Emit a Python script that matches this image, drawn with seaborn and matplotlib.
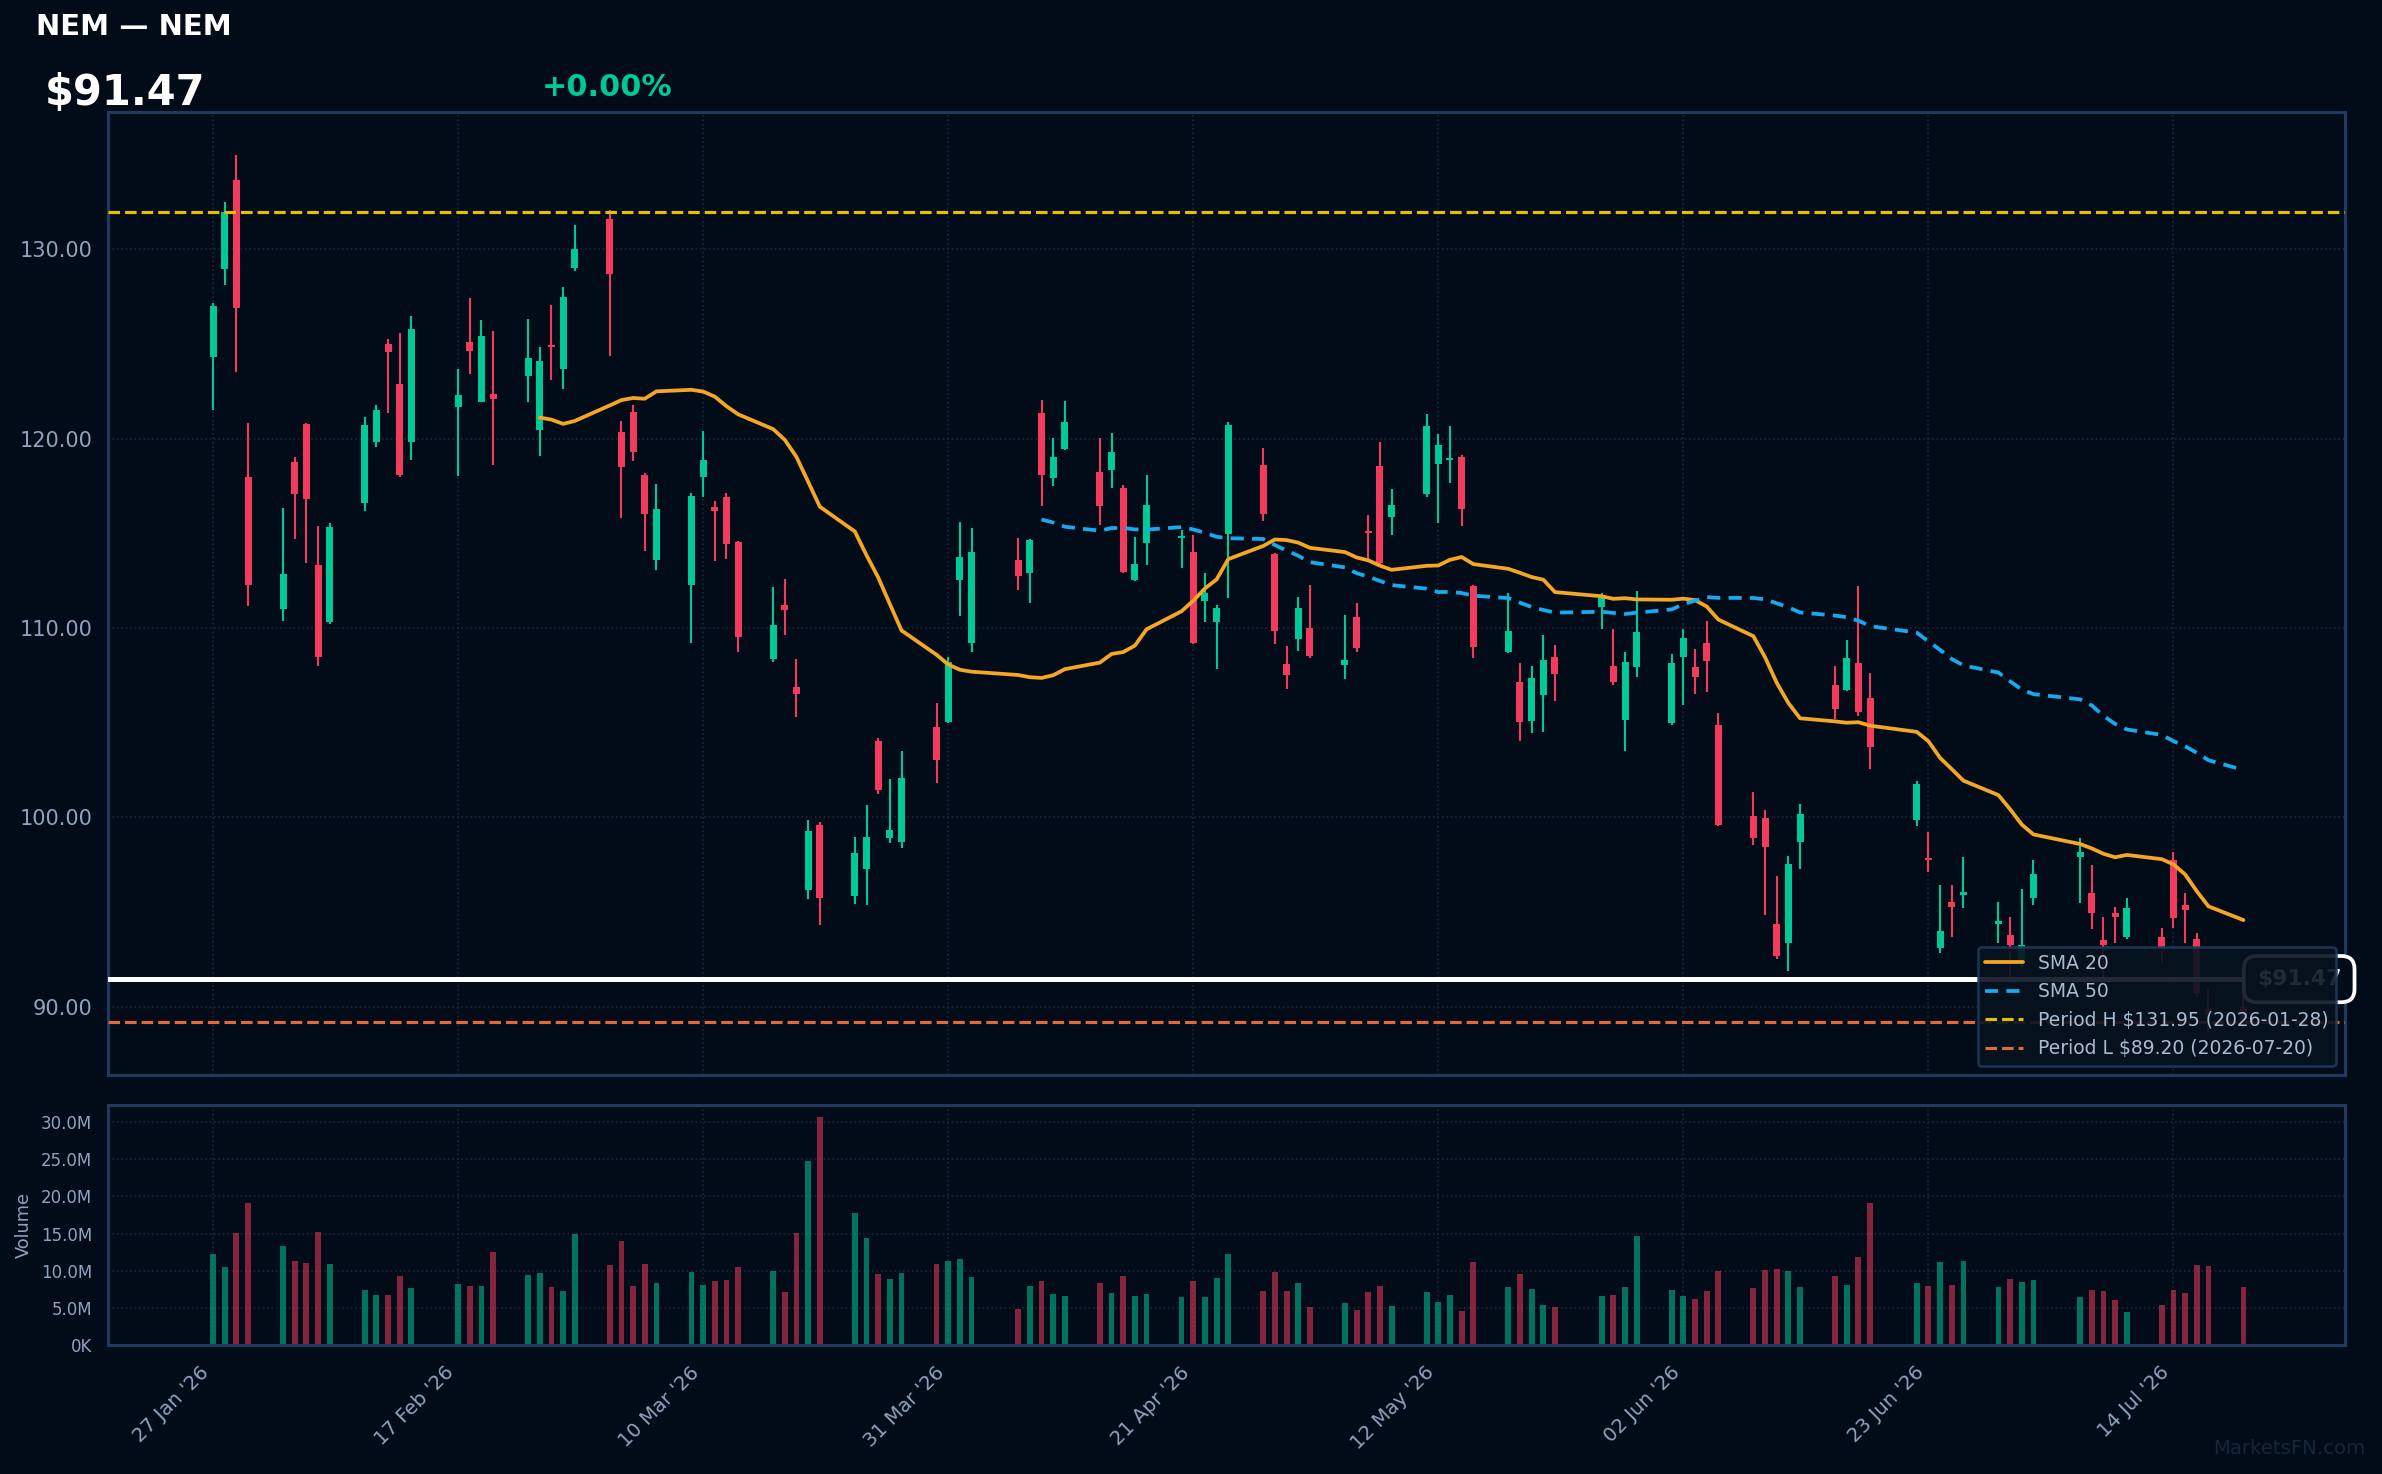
import numpy as np
import pandas as pd
import matplotlib
matplotlib.use("Agg")
import matplotlib.pyplot as plt
import matplotlib.dates as mdates
import matplotlib.transforms as mtransforms
from matplotlib.ticker import FuncFormatter, FixedLocator
import seaborn as sns

# ---------------- data ----------------
holidays = ["2026-02-16", "2026-04-03", "2026-05-25", "2026-06-19", "2026-07-03"]
dates = pd.bdate_range("2026-01-27", "2026-07-20", freq="C", holidays=holidays)

open_ = [124.29, 128.97, 133.64, 117.96, 111.02, 118.75, 120.77, 113.32, 110.29, 116.62,
         119.79, 124.99, 122.88, 119.79, 121.67, 125.08, 121.94, 122.35, 123.31, 120.47,
         124.93, 123.69, 129.02, 131.58, 120.33, 121.39, 118.07, 113.61, 112.29, 117.98,
         116.38, 116.90, 114.53, 108.38, 111.21, 106.91, 96.17, 99.62, 95.85, 97.29,
         104.03, 98.93, 98.72, 104.76, 105.06, 112.55, 109.23, 113.59, 112.92, 121.35,
         117.94, 119.47, 118.22, 118.35, 117.39, 112.55, 114.51, 114.74, 114.00, 111.44,
         110.29, 114.96, 118.60, 113.90, 108.10, 109.44, 109.98, 108.05, 110.58, 115.12,
         118.55, 115.88, 117.09, 118.67, 118.85, 119.03, 112.22, 108.75, 107.15, 105.11,
         106.45, 108.47, 111.12, 107.97, 105.16, 107.95, 104.96, 108.48, 107.93, 109.21,
         104.88, 100.06, 99.98, 94.38, 93.40, 98.68, 106.99, 106.73, 108.16, 106.31,
         99.87, 97.87, 93.13, 95.54, 95.89, 94.40, 93.78, 92.30, 95.77, 97.93,
         96.00, 93.53, 94.94, 93.71, 93.67, 97.75, 95.38, 93.59, 89.90, 90.00]
high = [127.16, 132.47, 134.96, 120.82, 116.34, 119.01, 120.82, 115.38, 115.55, 121.13,
        121.77, 125.25, 125.57, 126.46, 123.67, 127.42, 126.25, 125.67, 126.31, 124.82,
        127.04, 127.99, 131.26, 132.04, 120.92, 121.77, 118.19, 117.60, 117.13, 120.39,
        116.70, 117.13, 114.60, 112.15, 112.59, 108.36, 99.86, 99.78, 98.98, 100.66,
        104.20, 102.03, 103.51, 106.04, 108.47, 115.59, 115.28, 114.75, 114.70, 122.03,
        120.03, 121.97, 120.03, 120.30, 117.54, 114.79, 118.07, 115.17, 114.91, 112.91,
        111.21, 120.85, 119.50, 113.94, 109.05, 111.64, 112.27, 110.69, 111.32, 115.96,
        119.82, 117.33, 121.29, 120.24, 120.66, 119.11, 112.27, 111.83, 108.14, 108.00,
        109.62, 109.09, 111.85, 109.93, 108.71, 111.95, 108.61, 109.93, 108.89, 110.36,
        105.52, 101.34, 100.39, 96.91, 97.96, 100.72, 107.99, 109.37, 112.21, 107.63,
        101.91, 99.21, 96.44, 96.44, 97.91, 95.54, 94.75, 96.22, 97.75, 98.92,
        97.49, 94.73, 95.26, 95.73, 94.15, 98.16, 96.00, 93.88, 90.95, 90.95]
low = [121.52, 128.12, 123.52, 111.17, 110.38, 114.72, 113.45, 108.01, 110.20, 116.19,
       119.54, 121.37, 117.98, 118.88, 118.03, 123.42, 121.90, 118.60, 121.94, 119.09,
       123.10, 122.61, 128.85, 124.37, 115.83, 118.83, 114.08, 113.08, 109.23, 116.92,
       113.55, 113.66, 108.74, 108.18, 109.65, 105.31, 95.69, 94.33, 95.45, 95.37,
       101.25, 98.67, 98.41, 101.82, 105.00, 110.65, 108.75, 112.02, 111.34, 116.45,
       117.51, 119.40, 115.45, 117.41, 112.90, 112.50, 113.34, 113.19, 109.14, 110.31,
       107.82, 111.60, 115.67, 109.16, 106.80, 108.80, 108.44, 107.33, 108.73, 113.59,
       113.40, 114.91, 116.93, 115.56, 117.67, 115.40, 108.44, 108.66, 104.06, 104.48,
       104.53, 106.17, 109.97, 107.01, 103.52, 107.39, 104.90, 105.95, 106.52, 106.63,
       99.57, 98.57, 94.87, 92.55, 91.90, 97.30, 105.22, 106.70, 105.37, 102.58,
       99.57, 97.14, 92.83, 93.71, 95.24, 93.36, 91.60, 92.13, 95.38, 95.50,
       94.11, 91.50, 93.39, 93.60, 92.34, 94.18, 93.39, 90.51, 88.70, 88.90]
close = [126.99, 131.95, 126.91, 112.29, 112.85, 117.09, 116.83, 108.48, 115.32, 120.71,
         121.50, 124.57, 118.09, 125.78, 122.29, 124.63, 125.40, 122.10, 124.25, 124.08,
         124.82, 127.46, 129.98, 128.70, 118.47, 119.30, 116.04, 116.28, 116.96, 118.86,
         116.15, 114.45, 109.53, 110.16, 110.97, 106.51, 99.30, 95.77, 98.10, 98.98,
         101.46, 99.34, 102.08, 103.05, 108.19, 113.75, 114.01, 112.76, 114.64, 118.09,
         119.01, 120.86, 116.45, 119.28, 112.95, 113.38, 116.49, 114.82, 109.23, 111.85,
         111.06, 120.71, 116.03, 109.86, 107.54, 111.06, 108.52, 108.31, 108.95, 115.02,
         113.43, 116.47, 120.66, 119.64, 118.95, 116.30, 109.02, 109.84, 105.02, 107.36,
         108.31, 107.59, 111.63, 107.16, 108.20, 109.78, 108.16, 109.48, 107.42, 108.27,
         99.62, 98.94, 98.45, 92.71, 97.55, 100.19, 105.75, 108.42, 105.56, 103.71,
         101.77, 97.76, 94.01, 95.29, 96.05, 94.50, 93.27, 93.27, 97.02, 98.18,
         94.97, 93.27, 94.73, 95.20, 93.09, 94.68, 95.12, 90.72, 89.60, 89.20]
volume_m = [12.31, 10.43, 15.14, 19.17, 13.26, 11.24, 10.97, 15.27, 10.84, 7.34,
            6.67, 6.67, 9.23, 7.61, 8.15, 7.88, 7.88, 12.45, 9.36, 9.63,
            7.75, 7.21, 15.00, 10.70, 14.06, 7.88, 10.84, 8.28, 9.76, 8.02,
            8.55, 8.69, 10.43, 9.90, 7.08, 15.14, 24.81, 30.72, 17.82, 14.46,
            9.49, 8.82, 9.63, 10.84, 11.37, 11.51, 9.09, 4.79, 7.88, 8.55,
            6.81, 6.54, 8.28, 6.94, 9.23, 6.54, 6.81, 6.40, 8.55, 6.40,
            8.96, 12.31, 7.21, 9.76, 7.21, 8.28, 5.06, 5.60, 4.66, 7.08,
            7.88, 5.19, 7.08, 5.73, 6.67, 4.52, 11.11, 7.75, 9.49, 7.48,
            5.33, 5.06, 6.54, 6.67, 7.75, 14.73, 7.34, 6.54, 6.14, 7.21,
            9.90, 7.61, 10.03, 10.17, 9.90, 7.75, 9.23, 8.02, 11.78, 19.17,
            8.28, 7.88, 11.11, 8.02, 11.24, 7.75, 8.82, 8.42, 8.69, 6.40,
            7.34, 7.21, 6.00, 4.39, 5.33, 7.34, 6.94, 10.70, 10.57, 7.75]

ticker = "NEM"
last_price = 91.47
change_pct = "+0.00%"
period_high = 131.95
period_high_date = "2026-01-28"
period_low = 89.20
period_low_date = "2026-07-20"
tick_dates = ["2026-01-27", "2026-02-17", "2026-03-10", "2026-03-31", "2026-04-21",
              "2026-05-12", "2026-06-02", "2026-06-23", "2026-07-14"]
price_ticks = [90, 100, 110, 120, 130]
volume_ticks_m = [0, 5, 10, 15, 20, 25, 30]

# ---------------- style ----------------
BG = "#020c18"
GREEN = "#00c896"
RED = "#f23b5c"
SPINE = "#1f3a5c"
TICKC = "#8fa3bf"
GRIDC = "#17263a"

sns.set_theme(style="dark")
plt.rcParams["font.family"] = ["DejaVu Sans"]
plt.rcParams["axes.facecolor"] = BG
plt.rcParams["figure.facecolor"] = BG

df = pd.DataFrame({"date": dates, "open": open_, "high": high, "low": low,
                   "close": close, "volume": np.array(volume_m) * 1e6})
df["x"] = mdates.date2num(df["date"])
df["sma20"] = df["close"].rolling(20).mean()
df["sma50"] = df["close"].rolling(50).mean()
up = df["close"] >= df["open"]
ccol = np.where(up, GREEN, RED)

fig = plt.figure(figsize=(2382 / 150, 1474 / 150), dpi=150)
fig.patch.set_facecolor(BG)
ax = fig.add_axes([0.04534, 0.27069, 0.93913, 0.65332])
axv = fig.add_axes([0.04534, 0.08752, 0.93913, 0.16282], sharex=ax)

for a in (ax, axv):
    a.set_facecolor(BG)
    for s in a.spines.values():
        s.set_visible(True)
        s.set_color(SPINE)
        s.set_linewidth(1.5)
    a.grid(True, color=GRIDC, linestyle=":", linewidth=0.8)
    a.set_axisbelow(True)

# candles
ax.vlines(df["x"], df["low"], df["high"], colors=ccol, linewidth=1.0, zorder=2)
body = np.maximum((df["close"] - df["open"]).abs(), 0.12)
ax.bar(df["x"], body, bottom=np.minimum(df["open"], df["close"]), width=0.6,
       color=ccol, linewidth=0, zorder=3)

# SMAs
s20 = df.dropna(subset=["sma20"])
s50 = df.dropna(subset=["sma50"])
sns.lineplot(x=s20["x"], y=s20["sma20"], ax=ax, color="#f5a623", linewidth=1.8,
             label="SMA 20", zorder=4)
sns.lineplot(x=s50["x"], y=s50["sma50"], ax=ax, color="#19a9ee", linewidth=1.8,
             linestyle=(0, (3.5, 2.2)), label="SMA 50", zorder=4)

ax.axhline(period_high, color="#e3c000", linestyle="--", linewidth=1.5,
           label=f"Period H ${period_high:.2f} ({period_high_date})", zorder=3)
ax.axhline(period_low, color="#e2693a", linestyle="--", linewidth=1.5,
           label=f"Period L ${period_low:.2f} ({period_low_date})", zorder=3)
ax.axhline(last_price, color="white", linewidth=2.4, zorder=4)

trans = mtransforms.blended_transform_factory(ax.transAxes, ax.transData)
ax.text(0.9795, last_price, f"${last_price:.2f}", transform=trans, ha="center", va="center",
        fontsize=10.5, fontweight="bold", color="white", zorder=6, clip_on=False,
        bbox=dict(boxstyle="round,pad=0.6", fc=BG, ec="white", lw=1.8))

leg = ax.legend(loc="lower right", fontsize=9, facecolor="#07121f", edgecolor=SPINE,
                framealpha=0.9, labelcolor="#a9bcd0", borderaxespad=0.5)
leg.set_zorder(10)
leg.get_frame().set_linewidth(1.2)

x0 = mdates.date2num(pd.Timestamp("2026-01-27"))
ax.set_xlim(x0 - 9.0, x0 + 182.7)
ax.set_ylim(86.41, 137.23)
ax.yaxis.set_major_locator(FixedLocator(price_ticks))
ax.yaxis.set_major_formatter(FuncFormatter(lambda v, p: f"{v:.2f}"))
ax.tick_params(axis="y", colors=TICKC, labelsize=10, length=4, color=TICKC)
ax.tick_params(axis="x", labelbottom=False, length=0)
ax.set_xlabel("")
ax.set_ylabel("")

# volume
vcol = np.where(up, GREEN, RED)
axv.bar(df["x"], df["volume"], width=0.5, color=vcol, alpha=0.55, linewidth=0, zorder=2)
axv.set_ylim(0, 32.3e6)
axv.yaxis.set_major_locator(FixedLocator([v * 1e6 for v in volume_ticks_m]))
axv.yaxis.set_major_formatter(FuncFormatter(lambda v, p: "0K" if v == 0 else f"{v / 1e6:.1f}M"))
axv.tick_params(axis="y", colors=TICKC, labelsize=8, length=4, color=TICKC)
tick_x = mdates.date2num(pd.to_datetime(tick_dates))
axv.xaxis.set_major_locator(FixedLocator(tick_x))
axv.xaxis.set_major_formatter(FuncFormatter(lambda v, p: mdates.num2date(v).strftime("%d %b '%y")))
axv.tick_params(axis="x", colors=TICKC, labelsize=9.5, length=5, color=TICKC, labelrotation=45)
for lbl in axv.get_xticklabels():
    lbl.set_ha("right")
axv.set_ylabel("Volume", color=TICKC, fontsize=8.5, labelpad=4)
axv.set_xlabel("")

# header
fig.text(36 / 2382, 1 - 27 / 1474, f"{ticker} — {ticker}", color="white", fontsize=14,
         fontweight="bold", ha="left", va="center")
fig.text(45 / 2382, 1 - 93 / 1474, f"${last_price:.2f}", color="white", fontsize=20,
         fontweight="bold", ha="left", va="center")
fig.text(542 / 2382, 1 - 88 / 1474, change_pct, color=GREEN, fontsize=14.5,
         fontweight="bold", ha="left", va="center")
fig.text(2365 / 2382, 1 - 1448 / 1474, "MarketsFN.com", color="#16263a", fontsize=9.5,
         ha="right", va="center")

fig.savefig("out.png", dpi=150, facecolor=BG)
